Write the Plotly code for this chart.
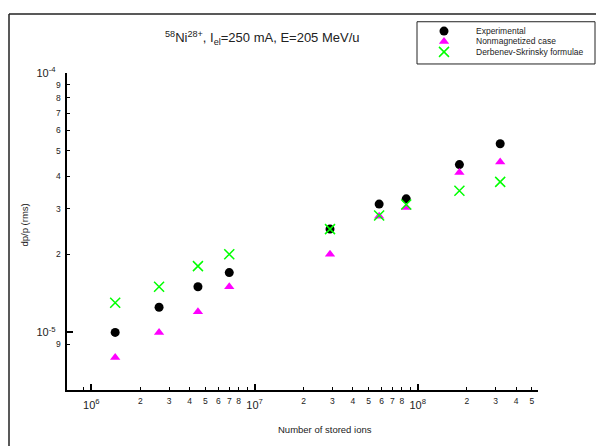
import plotly.graph_objects as go

# Number of stored ions (shared by all three series)
n_ions = [1.4e6, 2.6e6, 4.5e6, 7.0e6, 2.9e7, 5.8e7, 8.5e7, 1.8e8, 3.2e8]

# Relative momentum spread dp/p (rms)
dp_experimental = [1.00e-5, 1.25e-5, 1.50e-5, 1.70e-5, 2.50e-5, 3.12e-5, 3.27e-5, 4.43e-5, 5.33e-5]
dp_nonmagnetized = [8.0e-6, 1.00e-5, 1.20e-5, 1.50e-5, 2.00e-5, 2.80e-5, 3.03e-5, 4.13e-5, 4.53e-5]
dp_derbenev = [1.30e-5, 1.50e-5, 1.80e-5, 2.00e-5, 2.50e-5, 2.82e-5, 3.11e-5, 3.51e-5, 3.80e-5]

series_names = ["Experimental", "Nonmagnetized case", "Derbenev-Skrinsky formulae"]

# Axis tick definitions
x_major_vals = [1e6, 1e7, 1e8]
x_major_text = ["10<sup>6</sup>", "10<sup>7</sup>", "10<sup>8</sup>"]
x_minor_vals = [2e6, 3e6, 4e6, 5e6, 6e6, 7e6, 8e6,
                2e7, 3e7, 4e7, 5e7, 6e7, 7e7, 8e7,
                2e8, 3e8, 4e8, 5e8]
x_minor_text = ["2", "3", "4", "5", "6", "7", "8",
                "2", "3", "4", "5", "6", "7", "8",
                "2", "3", "4", "5"]
x_unlabeled_vals = [9e5, 9e6, 9e7]
y_major_vals = [1e-5, 1e-4]
y_major_text = ["10<sup>-5</sup>", "10<sup>-4</sup>"]
y_minor_vals = [9e-6, 2e-5, 3e-5, 4e-5, 5e-5, 6e-5, 7e-5, 8e-5, 9e-5]
y_minor_text = ["9", "2", "3", "4", "5", "6", "7", "8", "9"]

W, H = 596, 446
FONT = "Liberation Sans, Arial, sans-serif"

def px_x(p):
    return p / W

def px_y(p):
    return (H - p) / H

x_range = [5.849, 8.735]
y_range = [-5.223, -3.999]

styles = [
    dict(symbol="circle", size=9, color="black"),
    dict(symbol="triangle-up", size=9, color="#ff00ff"),
    dict(symbol="x-thin-open", size=10, color="#00ff00", line=dict(color="#00ff00", width=1.5)),
]
values = [dp_experimental, dp_nonmagnetized, dp_derbenev]

fig = go.Figure()
for name, vals, st in zip(series_names, values, styles):
    fig.add_trace(go.Scatter(x=n_ions, y=vals, mode="markers", name=name,
                             marker=st, showlegend=False, xaxis="x", yaxis="y"))

# Undrawn traces that bind the minor-tick overlay axes to the plot
fig.add_trace(go.Scatter(x=n_ions, y=dp_experimental, mode="none", showlegend=False,
                         hoverinfo="skip", xaxis="x2", yaxis="y"))
fig.add_trace(go.Scatter(x=n_ions, y=dp_experimental, mode="none", showlegend=False,
                         hoverinfo="skip", xaxis="x", yaxis="y2"))

# Hand-built legend: glyphs on a small auxiliary axis pair
for i, (name, st) in enumerate(zip(series_names, styles)):
    fig.add_trace(go.Scatter(x=[27], y=[i + 1], mode="markers", marker=st,
                             showlegend=False, xaxis="x3", yaxis="y3", hoverinfo="skip"))

axis_common = dict(showgrid=False, zeroline=False, type="log")

fig.update_layout(
    width=W, height=H,
    margin=dict(l=0, r=0, t=0, b=0),
    paper_bgcolor="white", plot_bgcolor="white",
    font=dict(family=FONT, color="#222"),
    xaxis=dict(**axis_common, range=x_range, domain=[px_x(66.7), px_x(537.7)], anchor="y",
               showline=True, linecolor="black", linewidth=2,
               ticks="inside", ticklen=6, tickwidth=1.5, tickcolor="black",
               tickvals=x_major_vals, ticktext=x_major_text,
               ticklabelstandoff=3,
               tickfont=dict(size=11, family=FONT, color="#222")),
    xaxis2=dict(**axis_common, range=x_range, overlaying="x", anchor="y", side="bottom",
                showline=False, ticks="inside", ticklen=3, tickwidth=1, tickcolor="black",
                tickvals=x_minor_vals, ticktext=x_minor_text,
                ticklabelstandoff=4,
                minor=dict(tickmode="array", tickvals=x_unlabeled_vals, ticks="inside",
                           ticklen=3, tickwidth=1, tickcolor="black", showgrid=False),
                tickfont=dict(size=8.5, family=FONT, color="#222")),
    yaxis=dict(**axis_common, range=y_range, domain=[px_y(389.3), px_y(65.7)], anchor="x",
               showline=True, linecolor="black", linewidth=2,
               ticks="inside", ticklen=6, tickwidth=1.5, tickcolor="black",
               tickvals=y_major_vals, ticktext=y_major_text,
               ticklabelstandoff=7,
               tickfont=dict(size=11, family=FONT, color="#222")),
    yaxis2=dict(**axis_common, range=y_range, overlaying="y", anchor="x", side="left",
                showline=False, ticks="inside", ticklen=3, tickwidth=1, tickcolor="black",
                tickvals=y_minor_vals, ticktext=y_minor_text,
                ticklabelstandoff=5,
                tickfont=dict(size=8.5, family=FONT, color="#222")),
    xaxis3=dict(domain=[px_x(417), px_x(595)], range=[0, 178], anchor="y3",
                visible=False, fixedrange=True),
    yaxis3=dict(domain=[px_y(57), px_y(14)], range=[4.16, 0.104], anchor="x3",
                visible=False, fixedrange=True),
)

# Layout decorations: outer frame and legend box
fig.add_shape(type="line", xref="paper", yref="paper",
              x0=px_x(9), x1=px_x(9), y0=-0.02, y1=px_y(6),
              line=dict(color="#222", width=1.5))
fig.add_shape(type="line", xref="paper", yref="paper",
              x0=px_x(9), x1=1.02, y0=px_y(6), y1=px_y(6),
              line=dict(color="#222", width=1.5))
fig.add_shape(type="rect", xref="paper", yref="paper",
              x0=px_x(417), x1=px_x(595), y0=px_y(57), y1=px_y(14),
              line=dict(color="#222", width=1), fillcolor="rgba(0,0,0,0)")

for i, name in enumerate(series_names):
    fig.add_annotation(x=57, y=i + 1, xref="x3", yref="y3", text=name, showarrow=False,
                       xanchor="left", yanchor="middle", font=dict(size=8.5, family=FONT, color="#222"))

# Title and axis titles
fig.add_annotation(x=px_x(262), y=px_y(31), xref="paper", yref="paper",
                   text="<sup>58</sup>Ni<sup>28+</sup>, I<sub>el</sub>=250 mA, E=205 MeV/u",
                   showarrow=False, xanchor="center", yanchor="middle",
                   font=dict(size=13, family=FONT, color="#222"))
fig.add_annotation(x=px_x(325), y=px_y(429), xref="paper", yref="paper",
                   text="Number of stored ions", showarrow=False,
                   xanchor="center", yanchor="middle",
                   font=dict(size=9.5, family=FONT, color="#222"))
fig.add_annotation(x=px_x(25), y=px_y(221.5), xref="paper", yref="paper",
                   text="dp/p (rms)", showarrow=False, textangle=-90,
                   xanchor="center", yanchor="middle",
                   font=dict(size=9.5, family=FONT, color="#222"))

fig.write_html("out.html")
